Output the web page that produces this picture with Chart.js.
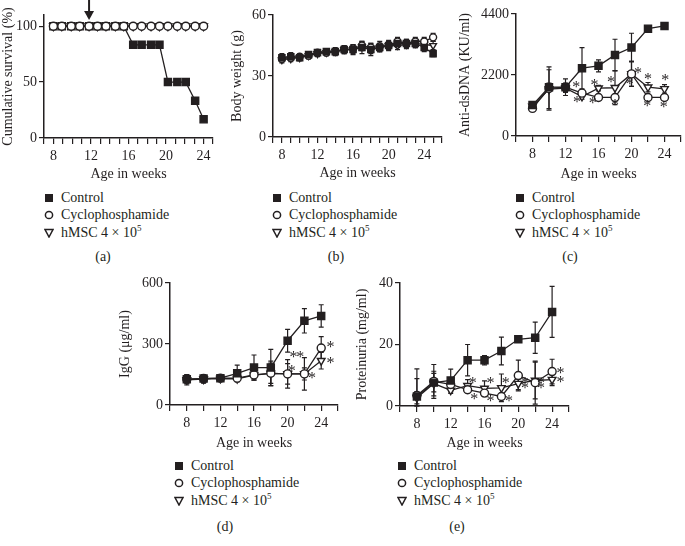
<!DOCTYPE html>
<html>
<head>
<meta charset="utf-8">
<script src="https://cdn.jsdelivr.net/npm/chart.js@4.4.0/dist/chart.umd.min.js"></script>
<style>
  body { margin: 0; background: #fff; width: 685px; height: 546px; position: relative; overflow: hidden;
         font-family: 'Liberation Serif', 'DejaVu Serif', serif; color: #231f20; }
  canvas { position: absolute; }
  .leg { position: absolute; font-size: 14px; white-space: nowrap; }
  .leg div { height: 17.5px; display: flex; align-items: center; }
  .leg svg { margin-right: 7px; flex: none; }
  .lab { position: absolute; font-size: 14px; transform: translateX(-50%); }
  sup { font-size: 9px; vertical-align: 6px; line-height: 0; }
</style>
</head>
<body>
<canvas id="pa" width="225" height="183" style="left:0;top:0"></canvas>
<canvas id="pb" width="224" height="182" style="left:229px;top:0"></canvas>
<canvas id="pc" width="228" height="183" style="left:457px;top:0"></canvas>
<canvas id="pd" width="228" height="182" style="left:117px;top:270px"></canvas>
<canvas id="pe" width="231" height="182" style="left:354px;top:270px"></canvas>
<script>
const ink = '#231f20';
const seriesNames = ['Control', 'Cyclophosphamide', 'hMSC 4 × 10<sup>5</sup>'];
const xTickLabels = [8, 12, 16, 20, 24];

// (a) cumulative survival
const survivalWeeks = [8, 8.9, 9.9, 10.8, 11.8, 12.7, 13.6, 14.6, 15.5, 16.5, 17.4, 18.4, 19.3, 20.2, 21.2, 22.1, 23.1, 24.0];
const survivalControl = [100, 100, 100, 100, 100, 100, 100, 100, 100, 83.3, 83.3, 83.3, 83.3, 50, 50, 50, 33.3, 16.7];
const survivalCyclo = [100, 100, 100, 100, 100, 100, 100, 100, 100, 100, 100, 100, 100, 100, 100, 100, 100, 100];
const survivalHmsc = [100, 100, 100, 100, 100, 100, 100, 100, 100, 100, 100, 100, 100, 100, 100, 100, 100, 100];
const treatmentWeek = 11.8;

// (b) body weight
const weightWeeks = [8, 9, 10, 11, 12, 13, 14, 15, 16, 17, 18, 19, 20, 21, 22, 23, 24, 25];
const weightControl = [39, 39.5, 39, 40.5, 41.5, 42, 42, 43, 43, 44, 43, 44, 45, 46, 46, 46, 44, 41];
const weightControlErr = [2, 2, 1.5, 1.5, 1.5, 1.5, 2, 2, 2.5, 3, 3, 2, 2.5, 2, 2, 2, 2, 1.5];
const weightCyclo = [38.5, 39, 39.5, 40, 41.5, 41.5, 42, 43, 43.5, 45, 44, 44.5, 45, 47, 46, 47, 47, 49];
const weightCycloErr = [1.5, 1.5, 1.5, 1.5, 1.5, 1.5, 1.5, 2, 2, 2, 2, 2.5, 2, 2, 2, 2, 2, 2];
const weightHmsc = [38, 38.5, 39, 40, 41, 41.5, 42, 43, 43, 44.5, 43, 44, 45, 45, 45.5, 46, 45.5, 45];
const weightHmscErr = [1.5, 1.5, 1.5, 1.5, 1.5, 1.5, 1.5, 1.5, 2, 2, 2, 2, 2, 2, 2, 2, 2, 2];

// (c) anti-dsDNA
const dsdnaWeeks = [8, 10, 12, 14, 16, 18, 20, 22, 24];
const dsdnaControl = [1115, 1760, 1760, 2445, 2530, 2925, 3190, 3870, 3970];
const dsdnaControlErr = [80, 150, 300, 745, 215, 565, 515, 90, 70];
const dsdnaCyclo = [995, 1715, 1760, 1545, 1390, 1390, 2240, 1390, 1390];
const dsdnaCycloErr = [80, 780, 150, 100, 100, 100, 450, 80, 80];
const dsdnaHmsc = [1065, 1690, 1725, 1425, 1725, 1740, 2240, 1760, 1700];
const dsdnaHmscErr = [80, 700, 150, 100, 100, 610, 450, 170, 150];
const dsdnaStars = [[13.3, 1846], [13.4, 1307], [15.5, 1906], [15.3, 1283], [17.5, 2026], [18.0, 1187],
                    [20.8, 2362], [19.8, 1966], [22.0, 2146], [21.9, 1163], [24.1, 2086], [23.9, 1127]];

// (d) IgG
const iggWeeks = [8, 10, 12, 14, 16, 18, 20, 22, 24];
const iggControl = [127, 130, 132, 156, 184, 184, 316, 414, 438];
const iggControlErr = [20, 15, 8, 40, 62, 90, 56, 60, 55];
const iggCyclo = [127, 130, 132, 132, 148, 156, 153, 153, 280];
const iggCycloErr = [20, 20, 8, 15, 20, 60, 70, 30, 56];
const iggHmsc = [124, 127, 130, 129, 147, 156, 153, 153, 218];
const iggHmscErr = [25, 20, 8, 15, 25, 50, 50, 80, 41];
const iggStars = [[20.7, 246], [21.5, 246], [20.5, 178], [22.9, 143], [25.1, 295], [25.1, 218]];

// (e) proteinuria
const protWeeks = [8, 10, 12, 14, 16, 18, 20, 22, 24];
const protControl = [3.1, 7.6, 8.3, 14.9, 14.9, 17.9, 21.7, 22.2, 30.6];
const protControlErr = [9, 3, 3.7, 5.1, 1.5, 4.5, 0.5, 5.1, 8.3];
const protCyclo = [3.4, 8.0, 7.0, 5.3, 4.2, 3.1, 9.9, 7.6, 11.2];
const protCycloErr = [5.5, 5.5, 1, 1, 1, 1, 5, 7, 4];
const protHmsc = [2.7, 7.3, 5.1, 6.6, 5.7, 5.9, 7.3, 8.3, 8.6];
const protHmscErr = [2, 4, 1, 2, 2.5, 4.5, 2, 6, 2];
const protStars = [[14.6, 8.1], [14.8, 3.1], [16.7, 8.1], [16.7, 2.4], [18.5, 8.3], [18.9, 2.4],
                   [20.8, 8.3], [20.8, 6.5], [22.7, 8.3], [22.7, 6.5], [25.0, 11.6], [25.0, 8.6]];

Chart.defaults.font.family = "'Liberation Serif', 'DejaVu Serif', serif";
Chart.defaults.font.size = 14;
Chart.defaults.color = ink;

function pts(xs, ys) { return xs.map((x, i) => ({ x: x, y: ys[i] })); }

function makeSets(xs, c, ce, y, ye, h, he, r, controlBehind) {
  const base = { borderColor: ink, borderWidth: 1.3, pointBorderColor: ink, pointBorderWidth: 1.4, tension: 0, fill: false };
  return [
    Object.assign({}, base, { label: 'Control', data: pts(xs, c), errors: ce, pointStyle: 'rect',
      pointRadius: r * 1.25, pointBackgroundColor: ink, order: controlBehind ? 3 : 0 }),
    Object.assign({}, base, { label: 'Cyclophosphamide', data: pts(xs, y), errors: ye, pointStyle: 'circle',
      pointRadius: r, pointBackgroundColor: '#fff', order: 1 }),
    Object.assign({}, base, { label: 'hMSC', data: pts(xs, h), errors: he, pointStyle: 'triangle',
      pointRotation: 180, pointRadius: r * 1.1, pointBackgroundColor: '#fff', order: 2 })
  ];
}

const errorBars = {
  id: 'errorBars',
  beforeDatasetsDraw(chart) {
    const ctx = chart.ctx, xs = chart.scales.x, ys = chart.scales.y;
    ctx.save();
    ctx.strokeStyle = ink;
    ctx.lineWidth = 1.2;
    chart.data.datasets.forEach(ds => {
      if (!ds.errors) return;
      ds.data.forEach((p, i) => {
        const e = ds.errors[i];
        if (!e) return;
        const px = xs.getPixelForValue(p.x);
        const top = ys.getPixelForValue(p.y + e);
        const bot = ys.getPixelForValue(Math.max(0, p.y - e));
        ctx.beginPath();
        ctx.moveTo(px, top); ctx.lineTo(px, bot);
        ctx.moveTo(px - 2.5, top); ctx.lineTo(px + 2.5, top);
        ctx.moveTo(px - 2.5, bot); ctx.lineTo(px + 2.5, bot);
        ctx.stroke();
      });
    });
    ctx.restore();
  }
};

function starPlugin(stars) {
  return {
    id: 'stars',
    afterDatasetsDraw(chart) {
      const ctx = chart.ctx, xs = chart.scales.x, ys = chart.scales.y;
      ctx.save();
      ctx.fillStyle = ink;
      ctx.font = "16px 'Liberation Serif', serif";
      ctx.textAlign = 'center';
      ctx.textBaseline = 'middle';
      stars.forEach(s => ctx.fillText('*', xs.getPixelForValue(s[0]), ys.getPixelForValue(s[1]) + 3));
      ctx.restore();
    }
  };
}

const arrowPlugin = {
  id: 'arrow',
  afterDraw(chart) {
    const ctx = chart.ctx, px = chart.scales.x.getPixelForValue(treatmentWeek);
    ctx.save();
    ctx.strokeStyle = ink; ctx.fillStyle = ink; ctx.lineWidth = 2;
    ctx.beginPath(); ctx.moveTo(px, 0); ctx.lineTo(px, 14); ctx.stroke();
    ctx.beginPath(); ctx.moveTo(px - 5, 11); ctx.lineTo(px + 5, 11); ctx.lineTo(px, 20); ctx.closePath(); ctx.fill();
    ctx.restore();
  }
};

function panel(id, cfg) {
  const plugins = [errorBars];
  if (cfg.stars) plugins.push(starPlugin(cfg.stars));
  if (cfg.arrow) plugins.push(arrowPlugin);
  new Chart(document.getElementById(id), {
    type: 'line',
    data: { datasets: cfg.sets },
    plugins: plugins,
    options: {
      responsive: false,
      animation: false,
      events: [],
      layout: { autoPadding: false, padding: { left: 0, right: cfg.padRight, top: cfg.padTop, bottom: 0 } },
      plugins: { legend: { display: false }, tooltip: { enabled: false } },
      scales: {
        x: {
          type: 'linear', min: cfg.xMin, max: cfg.xMax,
          afterFit: s => { s.height = cfg.xH; },
          grid: { drawOnChartArea: false, drawTicks: true, tickLength: 6, color: ink, lineWidth: 1.2 },
          border: { display: true, color: ink, width: 1.5 },
          ticks: { stepSize: cfg.xStep, autoSkip: false, maxRotation: 0, padding: 4, color: ink,
                   callback: v => (xTickLabels.includes(v) ? String(v) : '') },
          title: { display: true, text: 'Age in weeks', padding: 0, color: ink }
        },
        y: {
          type: 'linear', min: 0, max: cfg.yMax,
          afterFit: s => { s.width = cfg.yW; },
          afterBuildTicks: s => { s.ticks = cfg.yTicks.map(v => ({ value: v })); },
          grid: { drawOnChartArea: false, drawTicks: true, tickLength: 5, color: ink, lineWidth: 1.2 },
          border: { display: true, color: ink, width: 1.5 },
          ticks: { padding: 2, color: ink, callback: v => String(v) },
          title: { display: true, text: cfg.yTitle, padding: 0, color: ink }
        }
      }
    }
  });
}

panel('pa', {
  sets: makeSets(survivalWeeks, survivalControl, null, survivalCyclo, null, survivalHmsc, null, 4, true),
  xMin: 7, xMax: 25, xStep: 1, yMax: 110, yTicks: [0, 50, 100], yTitle: 'Cumulative survival (%)',
  yW: 44, xH: 45, padTop: 15, padRight: 12, arrow: true
});
panel('pb', {
  sets: makeSets(weightWeeks, weightControl, weightControlErr, weightCyclo, weightCycloErr, weightHmsc, weightHmscErr, 3.5),
  xMin: 7, xMax: 26, xStep: 1, yMax: 60, yTicks: [0, 30, 60], yTitle: 'Body weight (g)',
  yW: 44, xH: 45, padTop: 15, padRight: 11
});
panel('pc', {
  sets: makeSets(dsdnaWeeks, dsdnaControl, dsdnaControlErr, dsdnaCyclo, dsdnaCycloErr, dsdnaHmsc, dsdnaHmscErr, 4),
  xMin: 6, xMax: 26, xStep: 2, yMax: 4400, yTicks: [0, 2200, 4400], yTitle: 'Anti-dsDNA (KU/ml)',
  yW: 59, xH: 47, padTop: 14, padRight: 1, stars: dsdnaStars
});
panel('pd', {
  sets: makeSets(iggWeeks, iggControl, iggControlErr, iggCyclo, iggCycloErr, iggHmsc, iggHmscErr, 4),
  xMin: 6, xMax: 26, xStep: 2, yMax: 600, yTicks: [0, 300, 600], yTitle: 'IgG (μg/ml)',
  yW: 53, xH: 47, padTop: 13, padRight: 7, stars: iggStars
});
panel('pe', {
  sets: makeSets(protWeeks, protControl, protControlErr, protCyclo, protCycloErr, protHmsc, protHmscErr, 4),
  xMin: 6, xMax: 26, xStep: 2, yMax: 40, yTicks: [0, 20, 40], yTitle: 'Proteinuria (mg/ml)',
  yW: 46, xH: 46, padTop: 13, padRight: 16, stars: protStars
});

// legends and panel letters
const legendSpots = [
  { x: 44, y: 189, letter: '(a)', lx: 103, ly: 249 },
  { x: 272, y: 189, letter: '(b)', lx: 336, ly: 249 },
  { x: 515, y: 189, letter: '(c)', lx: 570, ly: 249 },
  { x: 174, y: 457, letter: '(d)', lx: 225, ly: 519 },
  { x: 397, y: 457, letter: '(e)', lx: 457, ly: 519 }
];
const symbols = [
  '<svg width="10" height="10"><rect x="1" y="1" width="8" height="8" fill="' + ink + '"/></svg>',
  '<svg width="10" height="10"><circle cx="5" cy="5" r="3.6" fill="#fff" stroke="' + ink + '" stroke-width="1.5"/></svg>',
  '<svg width="10" height="10"><path d="M1 1.5 L9 1.5 L5 9 Z" fill="#fff" stroke="' + ink + '" stroke-width="1.5" stroke-linejoin="miter"/></svg>'
];
legendSpots.forEach(spot => {
  const leg = document.createElement('div');
  leg.className = 'leg';
  leg.style.left = spot.x + 'px';
  leg.style.top = spot.y + 'px';
  leg.innerHTML = seriesNames.map((name, i) => '<div>' + symbols[i] + '<span>' + name + '</span></div>').join('');
  document.body.appendChild(leg);
  const lab = document.createElement('div');
  lab.className = 'lab';
  lab.style.left = spot.lx + 'px';
  lab.style.top = spot.ly + 'px';
  lab.textContent = spot.letter;
  document.body.appendChild(lab);
});
</script>
</body>
</html>
